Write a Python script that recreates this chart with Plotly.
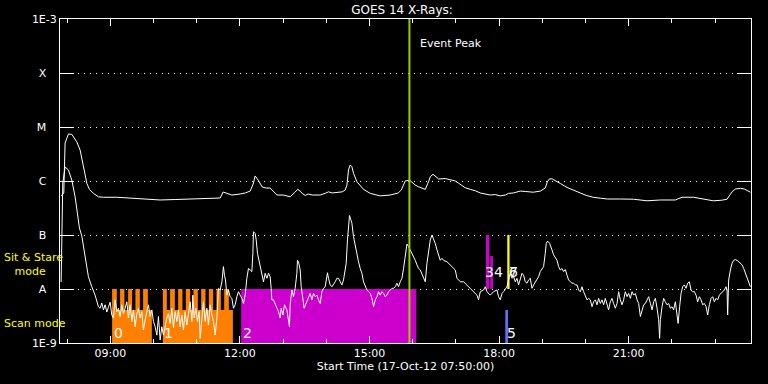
import math
import pandas as pd
import plotly.graph_objects as go

DAY = "2012-10-17"

# ---------------- GOES 14 long channel (1-8 A), UT hours / flux W m^-2
long_hours = [7.859, 7.921, 7.951, 8.028, 8.107, 8.222, 8.299, 8.338, 8.375, 8.415,
              8.454, 8.514, 8.607, 8.723, 8.839, 9.149, 9.457, 9.805, 10.152, 10.50,
              10.847, 11.195, 11.542, 11.611, 11.681, 11.813, 12.005, 12.121, 12.237, 12.306,
              12.352, 12.422, 12.515, 12.608, 12.700, 12.855, 13.001, 13.163, 13.279, 13.337,
              13.395, 13.44, 13.511, 13.58, 13.673, 13.858, 13.974, 14.05, 14.136, 14.252,
              14.368, 14.437, 14.477, 14.514, 14.553, 14.592, 14.63, 14.708, 14.785, 14.861,
              15.017, 15.248, 15.48, 15.665, 15.735, 15.781, 15.828, 15.927, 16.059, 16.136,
              16.214, 16.291, 16.367, 16.407, 16.47, 16.522, 16.6, 16.754, 16.87, 16.986,
              17.062, 17.141, 17.217, 17.333, 17.449, 17.565, 17.68, 17.796, 17.912, 18.028,
              18.144, 18.22, 18.33, 18.49, 18.606, 18.792, 18.954, 19.07, 19.116, 19.17,
              19.232, 19.302, 19.418, 19.573, 19.72, 19.88, 20.02, 20.18, 20.35, 20.51,
              20.81, 21.11, 21.426, 21.735, 22.08, 22.237, 22.5, 22.73, 22.96, 23.15,
              23.28, 23.33, 23.395, 23.47, 23.587, 23.68, 23.75, 23.82]
long_flux = [5.3e-7, 6.0e-7, 5.06e-6, 7.4e-6, 7.3e-6, 5.3e-6, 3.75e-6, 2.67e-6, 1.84e-6, 1.29e-6,
             9.1e-7, 7.0e-7, 5.9e-7, 5.1e-7, 5.0e-7, 5.0e-7, 4.84e-7, 4.74e-7, 4.45e-7, 4.54e-7,
             4.64e-7, 4.74e-7, 4.84e-7, 6.25e-7, 6.0e-7, 5.5e-7, 5.74e-7, 6.0e-7, 6.5e-7, 8.8e-7,
             1.24e-6, 1.04e-6, 7.74e-7, 7.4e-7, 7.4e-7, 5.5e-7, 5.5e-7, 5.1e-7, 6.25e-7, 7.0e-7,
             6.5e-7, 5.9e-7, 5.4e-7, 5.74e-7, 5.5e-7, 5.5e-7, 5.9e-7, 6.3e-7, 6.0e-7, 6.1e-7,
             6.3e-7, 6.8e-7, 8.4e-7, 1.6e-6, 1.98e-6, 1.84e-6, 1.39e-6, 9.7e-7, 8.1e-7, 7.0e-7,
             5.9e-7, 5.3e-7, 5.5e-7, 6.0e-7, 6.8e-7, 8.4e-7, 1.0e-6, 1.04e-6, 8.4e-7, 7.8e-7,
             7.3e-7, 7.0e-7, 9.7e-7, 1.2e-6, 1.33e-6, 1.24e-6, 1.09e-6, 1.11e-6, 1.07e-6, 1.0e-6,
             9.1e-7, 8.1e-7, 7.5e-7, 7.0e-7, 6.6e-7, 6.0e-7, 5.74e-7, 5.5e-7, 5.6e-7, 5.3e-7,
             5.5e-7, 5.9e-7, 6.0e-7, 6.5e-7, 6.4e-7, 6.2e-7, 6.5e-7, 7.4e-7, 9.6e-7, 1.1e-6,
             1.09e-6, 1.02e-6, 9.0e-7, 7.6e-7, 6.7e-7, 6.0e-7, 5.4e-7, 5.0e-7, 4.8e-7, 4.64e-7,
             4.64e-7, 4.6e-7, 4.3e-7, 4.45e-7, 4.45e-7, 5.0e-7, 5.0e-7, 4.6e-7, 4.3e-7, 4.4e-7,
             4.6e-7, 5.3e-7, 6.3e-7, 7.1e-7, 7.3e-7, 7.1e-7, 6.6e-7, 6.2e-7]

# ---------------- GOES 14 short channel (0.5-4 A)
short_hours = [
    7.859, 7.898, 7.951, 8.028, 8.107, 8.183, 8.236, 8.283, 8.338, 8.392,
    8.438, 8.491, 8.570, 8.646, 8.723, 8.762, 8.802, 8.839, 8.878, 8.917,
    8.954, 8.994, 9.033, 9.070, 9.109, 9.149, 9.186, 9.225, 9.265, 9.302,
    9.341, 9.381, 9.418, 9.457, 9.497, 9.534, 9.573, 9.612, 9.650, 9.689,
    9.728, 9.765, 9.805, 9.844, 9.881, 9.920, 9.960, 9.997, 10.036, 10.076,
    10.113, 10.152, 10.191, 10.229, 10.268, 10.307, 10.344, 10.383, 10.423, 10.460,
    10.500, 10.539, 10.576, 10.615, 10.655, 10.692, 10.731, 10.771, 10.808, 10.847,
    10.887, 10.910, 10.940, 10.980, 11.016, 11.055, 11.079, 11.118, 11.155, 11.195,
    11.234, 11.271, 11.310, 11.350, 11.387, 11.426, 11.466, 11.503, 11.542, 11.582,
    11.605, 11.618, 11.641, 11.665, 11.697, 11.734, 11.773, 11.813, 11.850, 11.889,
    11.929, 11.966, 12.005, 12.044, 12.081, 12.121, 12.160, 12.197, 12.237, 12.276,
    12.299, 12.313, 12.352, 12.376, 12.406, 12.452, 12.508, 12.545, 12.584, 12.624,
    12.661, 12.700, 12.723, 12.739, 12.776, 12.816, 12.855, 12.892, 12.932, 12.955,
    12.994, 13.031, 13.087, 13.124, 13.147, 13.163, 13.203, 13.240, 13.279, 13.318,
    13.332, 13.356, 13.395, 13.418, 13.457, 13.487, 13.518, 13.550, 13.587, 13.627,
    13.666, 13.703, 13.743, 13.782, 13.819, 13.858, 13.898, 13.935, 13.974, 13.997,
    14.027, 14.050, 14.090, 14.129, 14.166, 14.206, 14.245, 14.282, 14.322, 14.361,
    14.398, 14.437, 14.460, 14.490, 14.514, 14.537, 14.569, 14.592, 14.630, 14.669,
    14.708, 14.745, 14.785, 14.824, 14.861, 14.900, 14.940, 14.977, 15.017, 15.056,
    15.093, 15.133, 15.172, 15.209, 15.248, 15.288, 15.325, 15.364, 15.404, 15.441,
    15.480, 15.520, 15.557, 15.596, 15.635, 15.672, 15.711, 15.751, 15.788, 15.828,
    15.867, 15.904, 15.943, 15.983, 16.020, 16.059, 16.098, 16.136, 16.175, 16.250,
    16.291, 16.330, 16.367, 16.407, 16.446, 16.483, 16.522, 16.562, 16.599, 16.638,
    16.677, 16.714, 16.793, 16.870, 16.946, 16.986, 17.025, 17.062, 17.102, 17.178,
    17.256, 17.333, 17.410, 17.488, 17.525, 17.565, 17.642, 17.680, 17.720, 17.796,
    17.872, 17.951, 17.988, 18.028, 18.067, 18.104, 18.181, 18.220, 18.259, 18.298,
    18.336, 18.375, 18.414, 18.452, 18.491, 18.530, 18.567, 18.607, 18.646, 18.683,
    18.723, 18.762, 18.800, 18.838, 18.878, 18.915, 18.954, 18.994, 19.031, 19.070,
    19.093, 19.123, 19.170, 19.225, 19.262, 19.341, 19.378, 19.418, 19.457, 19.494,
    19.534, 19.573, 19.610, 19.650, 19.689, 19.726, 19.765, 19.805, 19.842, 19.881,
    19.920, 19.958, 19.997, 20.036, 20.073, 20.113, 20.152, 20.189, 20.229, 20.268,
    20.305, 20.344, 20.384, 20.421, 20.460, 20.500, 20.537, 20.576, 20.615, 20.652,
    20.692, 20.731, 20.768, 20.808, 20.847, 20.884, 20.923, 20.963, 21.000, 21.040,
    21.079, 21.116, 21.156, 21.195, 21.232, 21.272, 21.311, 21.348, 21.388, 21.427,
    21.464, 21.503, 21.543, 21.580, 21.619, 21.658, 21.695, 21.718, 21.735, 21.774,
    21.811, 21.850, 21.889, 21.926, 21.965, 22.005, 22.042, 22.082, 22.121, 22.145,
    22.181, 22.214, 22.251, 22.290, 22.329, 22.367, 22.406, 22.445, 22.482, 22.522,
    22.561, 22.598, 22.638, 22.677, 22.714, 22.754, 22.793, 22.830, 22.869, 22.908,
    22.946, 22.985, 23.024, 23.062, 23.100, 23.140, 23.177, 23.216, 23.256, 23.279,
    23.293, 23.316, 23.356, 23.395, 23.432, 23.471, 23.511, 23.548, 23.588, 23.627,
    23.664, 23.704, 23.743, 23.780, 23.819]
short_flux = [
    1.35e-8, 9.2e-7, 1.82e-6, 1.6e-6, 1.04e-6, 5.1e-7, 2.55e-7, 1.35e-7, 9.6e-8, 5.3e-8,
    3.0e-8, 1.69e-8, 1.1e-8, 7.7e-9, 4.7e-9, 4.4e-9, 5.5e-9, 4.1e-9, 5.1e-9, 3.75e-9,
    4.6e-9, 5.7e-9, 3.3e-9, 2.9e-9, 6.3e-9, 3.8e-9, 4.4e-9, 3.1e-9, 5.1e-9, 3.5e-9,
    4.4e-9, 5.8e-9, 2.9e-9, 5.1e-9, 2.5e-9, 4.1e-9, 2.0e-9, 3.5e-9, 4.4e-9, 2.9e-9,
    3.8e-9, 1.74e-9, 2.7e-9, 3.8e-9, 5.1e-9, 3.1e-9, 4.1e-9, 2.5e-9, 2.0e-9, 1.4e-9,
    3.1e-9, 1.14e-9, 2.0e-9, 1.4e-9, 2.15e-9, 2.9e-9, 3.5e-9, 2.3e-9, 4.4e-9, 1.9e-9,
    3.8e-9, 2.5e-9, 4.1e-9, 2.0e-9, 3.3e-9, 1.74e-9, 3.8e-9, 2.15e-9, 3.5e-9, 5.8e-9,
    2.5e-9, 7.7e-9, 2.9e-9, 4.4e-9, 2.5e-9, 3.8e-9, 1.22e-9, 3.1e-9, 5.8e-9, 2.5e-9,
    4.4e-9, 2.15e-9, 5.1e-9, 3.3e-9, 2.5e-9, 1.4e-9, 2.9e-9, 1.03e-8, 9.6e-9, 1.36e-8,
    2.25e-8, 2.6e-8, 1.8e-8, 1.47e-8, 7.7e-9, 9.6e-9, 7.2e-9, 6.7e-9, 4.4e-9, 5.1e-9,
    7.2e-9, 8.9e-9, 7.7e-9, 6.7e-9, 5.4e-9, 7.7e-9, 1.58e-8, 2.4e-8, 2.25e-8, 2.1e-8,
    4.6e-8, 1.15e-7, 1.07e-7, 8.1e-8, 4.6e-8, 3.0e-8, 1.69e-8, 1.36e-8, 1.95e-8, 1.58e-8,
    1.95e-8, 1.69e-8, 1.03e-8, 6.3e-9, 6.3e-9, 5.4e-9, 4.7e-9, 3.8e-9, 2.9e-9, 4.4e-9,
    3.3e-9, 5.1e-9, 4.1e-9, 2.7e-9, 2.0e-9, 5.1e-9, 9.6e-9, 7.2e-9, 1.03e-8, 1.95e-8,
    3.4e-8, 3.2e-8, 2.25e-8, 1.1e-8, 6.3e-9, 4.4e-9, 5.1e-9, 5.8e-9, 7.2e-9, 8.3e-9,
    6.3e-9, 8.3e-9, 7.2e-9, 7.7e-9, 6.3e-9, 5.4e-9, 8.9e-9, 1.03e-8, 1.1e-8, 1.58e-8,
    2.0e-8, 1.58e-8, 1.19e-8, 1.1e-8, 1.19e-8, 1.36e-8, 1.58e-8, 1.58e-8, 1.36e-8, 1.19e-8,
    1.47e-8, 2.1e-8, 3.0e-8, 8.1e-8, 1.65e-7, 2.3e-7, 1.9e-7, 1.65e-7, 9.3e-8, 6.1e-8,
    4.0e-8, 3.2e-8, 2.4e-8, 1.95e-8, 1.36e-8, 1.1e-8, 9.6e-9, 8.9e-9, 8.3e-9, 6.7e-9,
    4.7e-9, 6.3e-9, 7.2e-9, 8.9e-9, 7.7e-9, 8.9e-9, 8.3e-9, 7.2e-9, 7.7e-9, 8.9e-9,
    9.6e-9, 1.03e-8, 1.03e-8, 1.1e-8, 1.28e-8, 1.1e-8, 1.36e-8, 1.58e-8, 2.4e-8, 4.0e-8,
    6.8e-8, 6.1e-8, 5.3e-8, 4.6e-8, 4.0e-8, 3.4e-8, 2.8e-8, 2.4e-8, 2.25e-8, 1.58e-8,
    1.36e-8, 3.0e-8, 5.3e-8, 8.1e-8, 1.0e-7, 8.7e-8, 7.0e-8, 5.3e-8, 4.0e-8, 3.4e-8,
    3.7e-8, 3.4e-8, 3.2e-8, 2.8e-8, 2.4e-8, 2.25e-8, 1.58e-8, 1.47e-8, 1.36e-8, 1.36e-8,
    1.19e-8, 1.03e-8, 8.9e-9, 7.7e-9, 6.3e-9, 8.9e-9, 9.6e-9, 1.1e-8, 8.9e-9, 7.7e-9,
    8.9e-9, 9.6e-9, 7.2e-9, 6.3e-9, 8.3e-9, 8.9e-9, 1.1e-8, 1.58e-8, 1.95e-8, 1.58e-8,
    1.69e-8, 1.36e-8, 1.58e-8, 1.19e-8, 1.47e-8, 1.95e-8, 1.8e-8, 1.36e-8, 1.28e-8, 1.47e-8,
    1.58e-8, 1.03e-8, 1.19e-8, 1.36e-8, 1.58e-8, 1.69e-8, 2.1e-8, 2.4e-8, 2.6e-8, 4.6e-8,
    7.0e-8, 7.7e-8, 7.0e-8, 5.3e-8, 4.3e-8, 3.4e-8, 2.6e-8, 2.25e-8, 2.4e-8, 2.1e-8,
    2.3e-8, 1.8e-8, 1.47e-8, 1.36e-8, 1.28e-8, 1.28e-8, 1.19e-8, 1.19e-8, 9.6e-9, 8.9e-9,
    1.1e-8, 8.9e-9, 7.2e-9, 6.3e-9, 6.7e-9, 6.3e-9, 4.7e-9, 5.8e-9, 6.3e-9, 5.1e-9,
    6.7e-9, 5.4e-9, 6.3e-9, 5.1e-9, 6.7e-9, 5.4e-9, 4.1e-9, 5.8e-9, 6.7e-9, 5.4e-9,
    4.4e-9, 5.4e-9, 8.9e-9, 6.3e-9, 5.1e-9, 6.3e-9, 8.9e-9, 7.2e-9, 8.3e-9, 6.7e-9,
    8.9e-9, 7.7e-9, 8.3e-9, 6.3e-9, 5.4e-9, 3.1e-9, 4.1e-9, 5.1e-9, 5.4e-9, 6.3e-9,
    7.2e-9, 5.4e-9, 4.1e-9, 5.8e-9, 6.7e-9, 4.4e-9, 2.7e-9, 1.22e-9, 2.7e-9, 4.7e-9,
    6.7e-9, 5.8e-9, 5.1e-9, 5.4e-9, 4.4e-9, 4.7e-9, 4.1e-9, 5.8e-9, 3.5e-9, 2.3e-9,
    4.7e-9, 8.3e-9, 1.1e-8, 1.19e-8, 1.03e-8, 1.28e-8, 1.36e-8, 9.6e-9, 8.9e-9, 8.9e-9,
    7.7e-9, 5.8e-9, 7.2e-9, 6.3e-9, 5.1e-9, 5.4e-9, 4.7e-9, 3.3e-9, 5.1e-9, 6.7e-9,
    7.2e-9, 5.8e-9, 6.7e-9, 6.3e-9, 7.7e-9, 8.3e-9, 8.9e-9, 9.6e-9, 1.1e-8, 9.6e-9,
    3.3e-9, 1.47e-8, 2.25e-8, 3.0e-8, 3.4e-8, 3.5e-8, 3.4e-8, 3.2e-8, 3.0e-8, 2.8e-8,
    2.4e-8, 1.95e-8, 1.69e-8, 1.36e-8, 1.1e-8]

# ---------------- Observation windows (UT hours, flux band)
obs_labels = ["0", "1", "2", "3", "4", "5", "6", "7"]
obs_kind = ["scan", "scan", "stare", "stare", "stare", "raster", "other", "other"]
obs_start = [9.040, 10.215, 12.028, 17.696, 17.796, 18.144, 18.190, 18.190]
obs_end = [9.960, 11.836, 16.082, 17.773, 17.858, 18.206, 18.243, 18.243]
obs_low = [1e-9, 1e-9, 1e-9, 1e-8, 1e-8, 1e-9, 1e-8, 1e-8]
obs_high = [4.1e-9, 4.1e-9, 1e-8, 1e-7, 4.1e-8, 4.1e-9, 1e-7, 1e-7]

# individual scan steps inside scan windows 0 and 1
scan_step_start = [9.040, 9.225, 9.411, 9.580, 9.758, 10.215, 10.383, 10.569, 10.747,
                   10.923, 11.102, 11.280, 11.456, 11.635]
scan_step_end = [9.149, 9.325, 9.503, 9.682, 9.867, 10.307, 10.493, 10.669, 10.847,
                 11.025, 11.202, 11.380, 11.558, 11.743]
scan_step_low = 1e-9
scan_step_high = 1e-8

event_peak_hour = 15.924

level_vals = [1e-9, 1e-8, 1e-7, 1e-6, 1e-5, 1e-4, 1e-3]
level_text = ["1E-9", "A", "B", "C", "M", "X", "1E-3"]

# ---------------- styling
KIND_COLOR = {"scan": "#ff8000", "stare": "#cc00cc", "raster": "#6a6aff", "other": "#ffff00"}
PEAK_COLOR = "#99cc00"
MODE_TEXT = "#ffff00"
FONT = "DejaVu Sans"
LABEL_XSHIFT = {"3": -1.5, "4": 3.2}


def t(h):
    return pd.Timestamp(DAY) + pd.to_timedelta(h, unit="h")


def rects(starts, ends, lows, highs):
    xs, ys = [], []
    for s, e, lo, hi in zip(starts, ends, lows, highs):
        xs += [t(s), t(s), t(e), t(e), t(s), None]
        ys += [lo, hi, hi, lo, lo, None]
    return xs, ys


fig = go.Figure()

# filled observation windows, one trace per kind
for kind, color in KIND_COLOR.items():
    idx = [i for i, k in enumerate(obs_kind) if k == kind]
    s = [obs_start[i] for i in idx]
    e = [obs_end[i] for i in idx]
    lo = [obs_low[i] for i in idx]
    hi = [obs_high[i] for i in idx]
    if kind == "scan":
        s += scan_step_start
        e += scan_step_end
        lo += [scan_step_low] * len(scan_step_start)
        hi += [scan_step_high] * len(scan_step_start)
    xs, ys = rects(s, e, lo, hi)
    fig.add_trace(go.Scatter(x=xs, y=ys, mode="lines", fill="toself", fillcolor=color,
                             line=dict(width=0, color=color), hoverinfo="skip"))

# light curves
fig.add_trace(go.Scatter(x=[t(h) for h in long_hours], y=long_flux, mode="lines",
                         line=dict(color="white", width=1)))
fig.add_trace(go.Scatter(x=[t(h) for h in short_hours], y=short_flux, mode="lines",
                         line=dict(color="white", width=1)))

# event peak
fig.add_trace(go.Scatter(x=[t(event_peak_hour)] * 2, y=[level_vals[0], level_vals[-1]],
                         mode="lines", line=dict(color=PEAK_COLOR, width=2)))

# observation numbers (annotation y is in log10 units on a log axis)
for lab, s, lo in zip(obs_labels, obs_start, obs_low):
    ly = lo * (1.56 if lo < 5e-9 else 2.1)
    fig.add_annotation(text=lab, x=t(s), xref="x", xanchor="left",
                       xshift=LABEL_XSHIFT.get(lab, 0.5),
                       y=math.log10(ly), yref="y", yanchor="middle", borderpad=0,
                       showarrow=False, font=dict(family=FONT, size=14, color="white"))

nb = "\u00a0" * 3
fig.update_layout(
    width=768, height=384,
    margin=dict(l=60, r=17, t=19, b=41),
    paper_bgcolor="black", plot_bgcolor="black",
    showlegend=False,
    font=dict(family=FONT, size=11, color="white"),
    title=dict(text="GOES 14 X-Rays:", x=0.495, xref="paper", xanchor="center",
               y=1 - 9.5 / 384, yref="container", yanchor="middle",
               font=dict(family=FONT, size=12, color="white")),
    xaxis=dict(type="date", range=[t(7 + 50 / 60), t(23 + 50 / 60)],
               tick0=DAY + " 00:00", dtick=3 * 3600000, tickformat="%H:%M",
               ticks="inside", ticklen=7, tickcolor="white", tickwidth=1,
               minor=dict(dtick=3600000, ticks="inside", ticklen=4, tickcolor="white",
                          showgrid=False),
               showline=True, linecolor="white", linewidth=1, mirror="ticks",
               showgrid=False, zeroline=False,
               tickfont=dict(family=FONT, size=11, color="white"),
               title=dict(text="Start Time (17-Oct-12 07:50:00)", standoff=3,
                          font=dict(family=FONT, size=11, color="white")),
               automargin=False),
    yaxis=dict(type="log", range=[-9, -3],
               tickvals=level_vals,
               ticktext=[lt if lt.startswith("1E") else lt + nb for lt in level_text],
               ticks="inside", ticklen=14, tickcolor="white", tickwidth=1,
               showline=True, linecolor="white", linewidth=1, mirror="ticks",
               showgrid=True, gridcolor="white", gridwidth=1, griddash="1px,5px",
               zeroline=False,
               tickfont=dict(family=FONT, size=11, color="white"),
               automargin=False),
)

fig.add_annotation(text="Event Peak", x=t(event_peak_hour), xref="x", xanchor="left",
                   xshift=9, y=(343 - 43) / 324, yref="paper", yanchor="middle",
                   showarrow=False, font=dict(family=FONT, size=11, color="white"))
fig.add_annotation(text="Sit & Stare<br>" + "\u00a0" * 3 + "mode", align="left",
                   x=(2 - 60) / 691, xref="paper", xanchor="left",
                   y=(343 - 264.5) / 324, yref="paper", yanchor="middle",
                   showarrow=False, font=dict(family=FONT, size=11, color=MODE_TEXT))
fig.add_annotation(text="Scan mode", x=(2 - 60) / 691, xref="paper", xanchor="left",
                   y=(343 - 323) / 324, yref="paper", yanchor="middle",
                   showarrow=False, font=dict(family=FONT, size=11, color=MODE_TEXT))

fig.write_html(
    "out.html",
    config={"displayModeBar": False},
    post_script="document.body.style.margin='0';document.body.style.overflow='hidden';"
                "document.body.style.background='black';",
)
